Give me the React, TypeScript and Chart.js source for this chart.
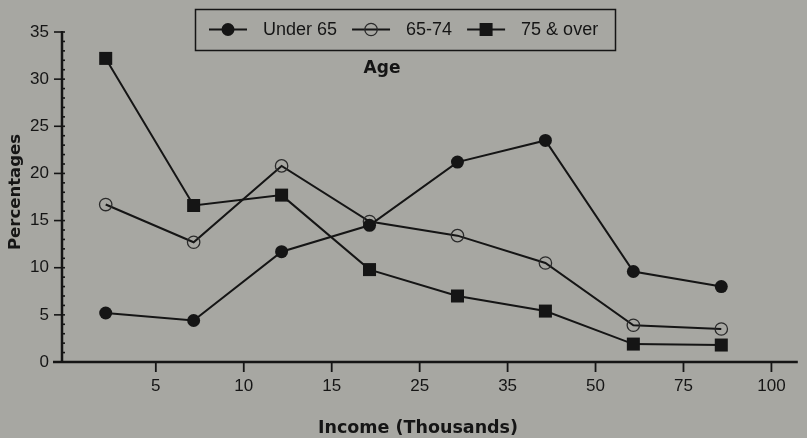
import React, { useEffect, useRef } from 'react';
import { Chart, registerables } from 'chart.js';

Chart.register(...registerables);

// ---- Data ----
const incomeBrackets = ['<5', '5-10', '10-15', '15-25', '25-35', '35-50', '50-75', '75-100'];
const tickLabels = ['5', '10', '15', '25', '35', '50', '75', '100'];
const seriesLabels = ['Under 65', '65-74', '75 & over'];
const under65 = [5.2, 4.4, 11.7, 14.5, 21.2, 23.5, 9.6, 8.0];
const age65to74 = [16.7, 12.7, 20.8, 14.9, 13.4, 10.5, 3.9, 3.5];
const age75over = [32.2, 16.6, 17.7, 9.8, 7.0, 5.4, 1.9, 1.8];
const yMax = 35;
const yStep = 5;

// ---- Styles ----
const BG = '#a7a7a2';
const INK = '#151515';
const TICK_FONT = '"Liberation Sans", Arial, sans-serif';
const TITLE_FONT = '"DejaVu Sans", Verdana, sans-serif';
const BRACKET_POS = 0.43; // position of a bracket's point between tick marks

const toPoints = (vals: number[]) => vals.map((v, i) => ({ x: i + BRACKET_POS, y: v }));

type Marker = 'filled' | 'open' | 'square';
const markers: Marker[] = ['filled', 'open', 'square'];

function drawMarker(ctx: CanvasRenderingContext2D, kind: Marker, x: number, y: number) {
  ctx.save();
  if (kind === 'filled') {
    ctx.fillStyle = INK;
    ctx.beginPath();
    ctx.arc(x, y, 6.5, 0, Math.PI * 2);
    ctx.fill();
  } else if (kind === 'open') {
    ctx.strokeStyle = '#2a2a2a';
    ctx.lineWidth = 1.3;
    ctx.beginPath();
    ctx.arc(x, y, 6.2, 0, Math.PI * 2);
    ctx.stroke();
  } else {
    ctx.fillStyle = INK;
    ctx.fillRect(x - 6.5, y - 6.5, 13, 13);
  }
  ctx.restore();
}

const decorPlugin = {
  id: 'decor',
  beforeDraw(chart: any) {
    const { ctx, width, height } = chart;
    ctx.save();
    ctx.fillStyle = BG;
    ctx.fillRect(0, 0, width, height);
    ctx.restore();
  },
  beforeDatasetsDraw(chart: any) {
    const { ctx, chartArea, scales } = chart;
    const xs = scales.x;
    const ys = scales.y;
    const left = chartArea.left;
    const bottom = chartArea.bottom;
    ctx.save();
    ctx.strokeStyle = INK;
    ctx.lineWidth = 2.5;
    ctx.beginPath();
    ctx.moveTo(left, ys.getPixelForValue(yMax) - 1);
    ctx.lineTo(left, bottom);
    ctx.stroke();
    ctx.beginPath();
    ctx.moveTo(left - 9, bottom);
    ctx.lineTo(chartArea.right, bottom);
    ctx.stroke();
    ctx.lineWidth = 1.6;
    for (let v = 0; v <= yMax; v++) {
      const py = ys.getPixelForValue(v);
      const major = v % yStep === 0;
      ctx.beginPath();
      ctx.moveTo(left - (major ? 8 : 0), py);
      ctx.lineTo(left + 3, py);
      ctx.stroke();
    }
    ctx.lineWidth = 1.8;
    xs.ticks.forEach((t: any) => {
      const px = xs.getPixelForValue(t.value);
      ctx.beginPath();
      ctx.moveTo(px, bottom);
      ctx.lineTo(px, bottom + 10);
      ctx.stroke();
    });
    ctx.restore();
  },
  afterDraw(chart: any) {
    const { ctx } = chart;
    ctx.save();
    // legend box
    ctx.strokeStyle = INK;
    ctx.lineWidth = 1.5;
    ctx.strokeRect(195.5, 9.5, 420, 41);
    ctx.font = `18px ${TICK_FONT}`;
    ctx.textBaseline = 'middle';
    ctx.textAlign = 'left';
    let x = 209;
    const ly = 29.5;
    chart.data.datasets.forEach((ds: any, i: number) => {
      ctx.strokeStyle = INK;
      ctx.lineWidth = 2;
      ctx.beginPath();
      ctx.moveTo(x, ly);
      ctx.lineTo(x + 38, ly);
      ctx.stroke();
      drawMarker(ctx, markers[i], x + 19, ly);
      const tx = x + 38 + 16;
      ctx.fillStyle = INK;
      ctx.fillText(ds.label, tx, ly + 1);
      x = tx + ctx.measureText(ds.label).width + 15;
    });
    // Age caption
    ctx.font = `bold 17px ${TITLE_FONT}`;
    ctx.textAlign = 'center';
    ctx.fillStyle = INK;
    ctx.fillText('Age', 382, 69);
    // x title
    ctx.font = `bold 17.5px ${TITLE_FONT}`;
    ctx.fillText('Income (Thousands)', 418, 428);
    // y title
    ctx.font = `bold 16.5px ${TITLE_FONT}`;
    ctx.translate(16, 192);
    ctx.rotate(-Math.PI / 2);
    ctx.fillText('Percentages', 0, 0);
    ctx.restore();
  },
};

export default function App() {
  const ref = useRef<HTMLCanvasElement>(null);

  useEffect(() => {
    document.body.style.background = BG;
    const canvas = ref.current;
    if (!canvas) return;
    const lineCommon = {
      borderColor: INK,
      borderWidth: 2,
      tension: 0,
      fill: false,
    };
    const chart = new Chart(canvas, {
      type: 'line',
      data: {
        labels: incomeBrackets,
        datasets: [
          {
            ...lineCommon,
            label: seriesLabels[0],
            data: toPoints(under65),
            pointStyle: 'circle',
            pointRadius: 6.5,
            pointBackgroundColor: INK,
            pointBorderColor: INK,
            pointBorderWidth: 0,
          },
          {
            ...lineCommon,
            label: seriesLabels[1],
            data: toPoints(age65to74),
            pointStyle: 'circle',
            pointRadius: 6.2,
            pointBackgroundColor: 'rgba(0,0,0,0)',
            pointBorderColor: '#2a2a2a',
            pointBorderWidth: 1.3,
          },
          {
            ...lineCommon,
            label: seriesLabels[2],
            data: toPoints(age75over),
            pointStyle: 'rect',
            pointRadius: 9.2,
            pointBackgroundColor: INK,
            pointBorderColor: INK,
            pointBorderWidth: 0,
          },
        ],
      },
      options: {
        animation: false,
        responsive: true,
        maintainAspectRatio: false,
        clip: false as any,
        layout: { padding: { top: 32, left: 0, right: 0, bottom: 0 } },
        plugins: {
          legend: { display: false },
          tooltip: { enabled: false },
        },
        elements: { point: { hoverRadius: 6.5 } },
        scales: {
          x: {
            type: 'linear',
            min: -0.067,
            max: 8.3,
            grid: { display: false, drawTicks: false, tickLength: 0 },
            border: { display: false },
            afterBuildTicks: (scale: any) => {
              scale.ticks = tickLabels.map((_, i) => ({ value: i + 1 }));
            },
            afterFit: (scale: any) => {
              scale.height = 76;
            },
            ticks: {
              autoSkip: false,
              maxRotation: 0,
              padding: 14,
              color: INK,
              font: { family: TICK_FONT, size: 17 },
              callback: (v: any) => tickLabels[Math.round(Number(v)) - 1] ?? '',
            },
          },
          y: {
            type: 'linear',
            min: 0,
            max: yMax,
            grid: { display: false, drawTicks: false, tickLength: 0 },
            border: { display: false },
            afterFit: (scale: any) => {
              scale.width = 62;
            },
            ticks: {
              stepSize: yStep,
              padding: 13,
              color: INK,
              font: { family: TICK_FONT, size: 17 },
            },
          },
        },
      },
      plugins: [decorPlugin],
    } as any);
    return () => chart.destroy();
  }, []);

  return (
    <div style={{ position: 'fixed', left: 0, top: 0, width: 807, height: 438, background: BG }}>
      <canvas ref={ref} />
    </div>
  );
}
